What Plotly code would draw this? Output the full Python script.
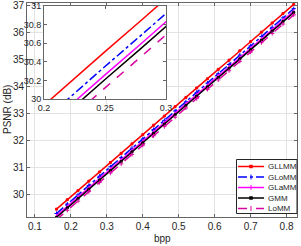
import plotly.graph_objects as go

bpp = [0.16, 0.19, 0.22, 0.25, 0.28, 0.31, 0.34, 0.37, 0.40, 0.43, 0.46, 0.49,
       0.52, 0.55, 0.58, 0.61, 0.64, 0.67, 0.70, 0.73, 0.76, 0.79, 0.82]

gllmm = [29.47, 29.82, 30.16, 30.51, 30.85, 31.20, 31.54, 31.89, 32.23, 32.58, 32.92, 33.27,
         33.61, 33.96, 34.30, 34.65, 34.99, 35.34, 35.68, 36.03, 36.37, 36.72, 37.06]
glomm = [29.31, 29.66, 30.00, 30.35, 30.69, 31.04, 31.38, 31.73, 32.07, 32.42, 32.76, 33.11,
         33.45, 33.80, 34.14, 34.49, 34.83, 35.18, 35.52, 35.87, 36.21, 36.56, 36.90]
glamm = [29.22, 29.57, 29.91, 30.26, 30.60, 30.95, 31.29, 31.64, 31.98, 32.33, 32.67, 33.02,
         33.36, 33.71, 34.05, 34.40, 34.74, 35.09, 35.43, 35.78, 36.12, 36.47, 36.81]
gmm = [29.17, 29.52, 29.86, 30.21, 30.55, 30.90, 31.24, 31.59, 31.93, 32.28, 32.62, 32.97,
       33.31, 33.66, 34.00, 34.35, 34.69, 35.04, 35.38, 35.73, 36.07, 36.42, 36.76]
lomm = [29.08, 29.43, 29.77, 30.12, 30.46, 30.81, 31.15, 31.50, 31.84, 32.19, 32.53, 32.88,
        33.22, 33.57, 33.91, 34.26, 34.60, 34.95, 35.29, 35.64, 35.98, 36.33, 36.67]

names = ["GLLMM", "GLoMM", "GLaMM", "GMM", "LoMM"]
series = [gllmm, glomm, glamm, gmm, lomm]
colors = ["#ff0000", "#0000ff", "#ff00ff", "#000000", "#d9059f"]
dashes = ["solid", "dashdot", "solid", "solid", "dash"]
symbols = ["square", "cross-thin", "line-ns", "square", "cross-thin"]
msizes = [2, 3, 3, 2, 3]

main_xticks = [0.1, 0.2, 0.3, 0.4, 0.5, 0.6, 0.7, 0.8]
main_yticks = [30, 31, 32, 33, 34, 35, 36, 37]
inset_xticks = [0.2, 0.25, 0.3]
inset_yticks = [30, 30.2, 30.4, 30.6, 30.8, 31]

W, H = 301, 246
ML, MR, MT, MB = 27, 4, 3, 29
PW, PH = W - ML - MR, H - MT - MB


def px(x):
    return (x - ML) / PW


def py(y):
    return (H - MB - y) / PH


fig = go.Figure()
for n, s, c, d, sym, ms in zip(names, series, colors, dashes, symbols, msizes):
    fig.add_trace(go.Scatter(
        x=bpp, y=s, name=n, mode="lines+markers", showlegend=False,
        line=dict(color=c, width=1.5, dash=d),
        marker=dict(symbol=sym, size=ms, color=c, line=dict(color=c, width=1)),
        xaxis="x", yaxis="y"))
for n, s, c, d in zip(names, series, colors, dashes):
    fig.add_trace(go.Scatter(
        x=bpp, y=s, name=n, mode="lines", showlegend=False,
        line=dict(color=c, width=1.5, dash=d),
        xaxis="x2", yaxis="y2"))

font = "Liberation Sans, Arial, sans-serif"
axcol = "#666666"

shapes = [dict(type="rect", xref="paper", yref="paper",
               x0=px(44), x1=px(166), y0=py(99), y1=py(6),
               fillcolor="white", line=dict(width=0), layer="below")]
annotations = []

# custom compact legend (matches the reference's tight spacing)
shapes.append(dict(type="rect", xref="paper", yref="paper",
                   x0=px(236.5), x1=px(297), y0=py(213.5), y1=py(159.5),
                   fillcolor="white", line=dict(color="#262626", width=1), layer="above"))
entry_y = [166.5, 177, 187.5, 198, 208.5]
for n, c, d, sym, yy in zip(names, colors, dashes, symbols, entry_y):
    shapes.append(dict(type="line", xref="paper", yref="paper",
                       x0=px(238), x1=px(264), y0=py(yy), y1=py(yy),
                       line=dict(color=c, width=1.5, dash=d), layer="above"))
    mx = 251
    if sym == "square":
        shapes.append(dict(type="rect", xref="paper", yref="paper",
                           x0=px(mx - 1.5), x1=px(mx + 1.5), y0=py(yy + 1.5), y1=py(yy - 1.5),
                           fillcolor=c, line=dict(color=c, width=0.5), layer="above"))
    else:
        shapes.append(dict(type="line", xref="paper", yref="paper",
                           x0=px(mx), x1=px(mx), y0=py(yy + 2.5), y1=py(yy - 2.5),
                           line=dict(color=c, width=1), layer="above"))
    annotations.append(dict(text=n, xref="paper", yref="paper", x=px(265.5), y=py(yy),
                            xanchor="left", yanchor="middle", showarrow=False,
                            font=dict(size=8, color="#262626", family=font)))

annotations.append(dict(text="bpp", xref="paper", yref="paper", x=px(162), y=py(238),
                        xanchor="center", yanchor="middle", showarrow=False,
                        font=dict(size=10, color="#262626", family=font)))
annotations.append(dict(text="PSNR (dB)", xref="paper", yref="paper", x=px(7), y=py(110),
                        xanchor="center", yanchor="middle", showarrow=False, textangle=-90,
                        font=dict(size=10, color="#262626", family=font)))

fig.update_layout(
    width=W, height=H,
    margin=dict(l=ML, r=MR, t=MT, b=MB),
    paper_bgcolor="white", plot_bgcolor="white",
    font=dict(family=font, size=10, color="#262626"),
    showlegend=False,
    xaxis=dict(range=[0.078, 0.829], tickvals=main_xticks, ticktext=[str(v) for v in main_xticks],
               showgrid=True, gridcolor="#e3e3e3", gridwidth=1, zeroline=False,
               showline=True, linecolor=axcol, linewidth=1, mirror="ticks",
               ticks="inside", ticklen=3, tickcolor=axcol, automargin=False,
               tickfont=dict(size=10)),
    yaxis=dict(range=[29.18, 37.11], tickvals=main_yticks,
               showgrid=True, gridcolor="#e3e3e3", gridwidth=1, zeroline=False,
               showline=True, linecolor=axcol, linewidth=1, mirror="ticks",
               ticks="inside", ticklen=3, tickcolor=axcol, automargin=False,
               tickfont=dict(size=10)),
    xaxis2=dict(domain=[px(44), px(166)], anchor="y2", range=[0.2, 0.3], tickvals=inset_xticks,
                ticktext=["0.2", "0.25", "0.3"], automargin=False,
                showgrid=False, zeroline=False, showline=True, linecolor=axcol, linewidth=1,
                mirror="ticks", ticks="inside", ticklen=3, tickcolor=axcol,
                tickfont=dict(size=9)),
    yaxis2=dict(domain=[py(99), py(6)], anchor="x2", range=[30, 31], tickvals=inset_yticks,
                ticktext=["30", "30.2", "30.4", "30.6", "30.8", "31"], automargin=False,
                showgrid=False, zeroline=False, showline=True, linecolor=axcol, linewidth=1,
                mirror="ticks", ticks="inside", ticklen=3, tickcolor=axcol,
                tickfont=dict(size=9)),
    shapes=shapes,
    annotations=annotations,
)
fig.write_html("out.html", config={"displayModeBar": False},
               post_script="document.body.style.margin='0';document.body.style.overflow='hidden';")
